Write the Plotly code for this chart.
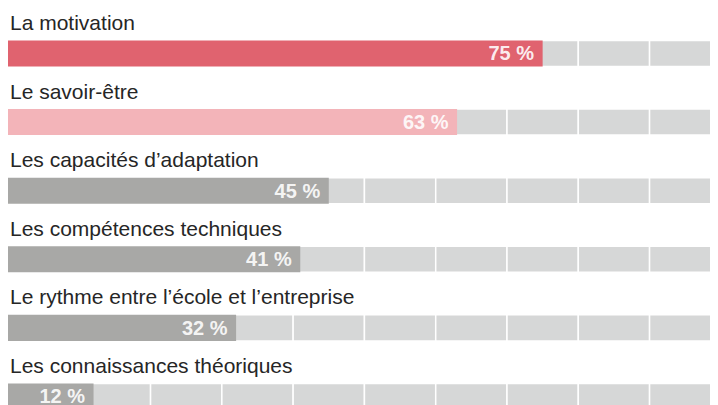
import plotly.graph_objects as go

categories = [
    "La motivation",
    "Le savoir-être",
    "Les capacités d’adaptation",
    "Les compétences techniques",
    "Le rythme entre l’école et l’entreprise",
    "Les connaissances théoriques",
]
values = [75, 63, 45, 41, 32, 12]
bar_colors = ["#e0636f", "#f3b4b9", "#a8a8a6", "#a8a8a6", "#a8a8a6", "#a8a8a6"]
cell_starts = list(range(0, 100, 10))
cell_size = 10

fig = go.Figure()

# background grey cells
bg_y, bg_x, bg_base = [], [], []
for c in categories:
    for s in cell_starts:
        bg_y.append(c)
        bg_x.append(cell_size)
        bg_base.append(s)

fig.add_trace(go.Bar(
    y=bg_y, x=bg_x, base=bg_base, orientation="h",
    marker=dict(color="#d6d7d7", line=dict(color="white", width=1.5)),
    width=0.38, hoverinfo="skip", showlegend=False,
))

fig.add_trace(go.Bar(
    y=categories, x=values, orientation="h",
    marker=dict(color=bar_colors, line=dict(width=0)),
    width=0.38,
    text=[f"{v} %\u00a0" for v in values],
    textposition="inside", insidetextanchor="end",
    textfont=dict(family="Liberation Sans", size=20, color="rgba(255,255,255,0.9)", weight="bold"),
    constraintext="none",
    showlegend=False,
))

for c in categories:
    fig.add_annotation(
        x=0, y=c, xref="x", yref="y", text=c, showarrow=False,
        xanchor="left", yanchor="middle", yshift=31,
        font=dict(family="Liberation Sans", size=21, color="#262626"),
    )

fig.update_layout(
    width=710, height=397,
    margin=dict(l=0, r=0, t=0, b=0),
    paper_bgcolor="white", plot_bgcolor="white",
    barmode="overlay",
    xaxis=dict(range=[0, 99.6], visible=False, fixedrange=True),
    yaxis=dict(type="category", range=[5.124, -0.663], visible=False, fixedrange=True),
)

fig.write_html("out.html")
